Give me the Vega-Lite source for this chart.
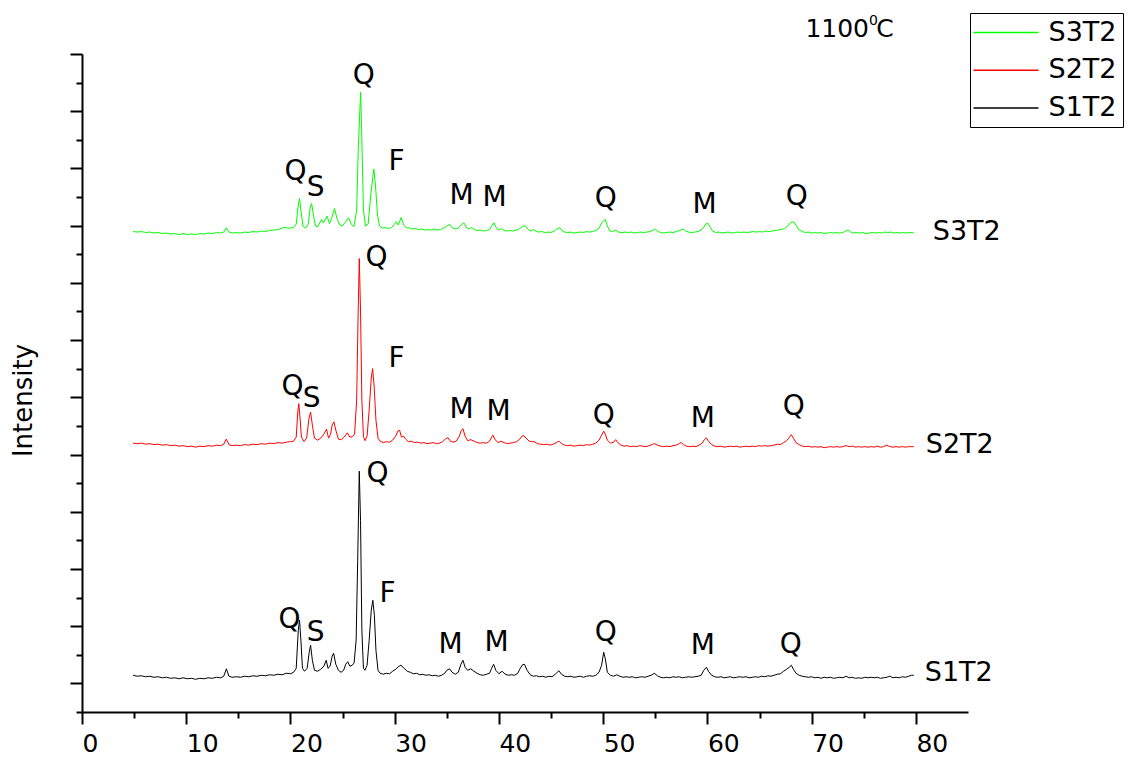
{
"$schema": "https://vega.github.io/schema/vega-lite/v6.json",
"width": 886, "height": 658,
"autosize": {"type": "none"},
"padding": {"left": 82, "top": 54, "right": 165, "bottom": 51},
"background": "white",
"config": {"view": {"stroke": null}, "axis": {"grid": false}},
"resolve": {"axis": {"x": "independent", "y": "independent"}},
"datasets": {
"xrd": [
{"s":"S1T2","x":4.9,"y":14.2},{"s":"S1T2","x":5.3,"y":12.5},{"s":"S1T2","x":5.7,"y":13.3},{"s":"S1T2","x":6.1,"y":11.6},{"s":"S1T2","x":6.5,"y":12.5},{"s":"S1T2","x":6.9,"y":10.7},{"s":"S1T2","x":7.3,"y":11.6},{"s":"S1T2","x":7.7,"y":9.8},{"s":"S1T2","x":8.1,"y":10.7},{"s":"S1T2","x":8.5,"y":8.9},{"s":"S1T2","x":8.9,"y":9.8},{"s":"S1T2","x":9.3,"y":8.1},{"s":"S1T2","x":9.7,"y":9.8},{"s":"S1T2","x":10.1,"y":8.1},{"s":"S1T2","x":10.5,"y":8.9},{"s":"S1T2","x":10.9,"y":7.2},{"s":"S1T2","x":11.3,"y":8.9},{"s":"S1T2","x":11.7,"y":8.1},{"s":"S1T2","x":12.1,"y":9.8},{"s":"S1T2","x":12.5,"y":8.9},{"s":"S1T2","x":12.9,"y":10.7},{"s":"S1T2","x":13.3,"y":9.8},{"s":"S1T2","x":13.6,"y":12.5},{"s":"S1T2","x":13.85,"y":25.5},{"s":"S1T2","x":14.1,"y":12.5},{"s":"S1T2","x":14.4,"y":10.7},{"s":"S1T2","x":14.8,"y":11.6},{"s":"S1T2","x":15.2,"y":10.7},{"s":"S1T2","x":15.6,"y":12.5},{"s":"S1T2","x":16.0,"y":11.6},{"s":"S1T2","x":16.4,"y":13.3},{"s":"S1T2","x":16.8,"y":12.5},{"s":"S1T2","x":17.2,"y":14.2},{"s":"S1T2","x":17.6,"y":13.3},{"s":"S1T2","x":18.0,"y":15.1},{"s":"S1T2","x":18.4,"y":14.2},{"s":"S1T2","x":18.8,"y":16.0},{"s":"S1T2","x":19.2,"y":15.1},{"s":"S1T2","x":19.6,"y":17.7},{"s":"S1T2","x":20.0,"y":16.8},{"s":"S1T2","x":20.3,"y":19.4},{"s":"S1T2","x":20.55,"y":26.4},{"s":"S1T2","x":20.75,"y":92.9},{"s":"S1T2","x":20.87,"y":110.3},{"s":"S1T2","x":21.0,"y":75.4},{"s":"S1T2","x":21.15,"y":26.4},{"s":"S1T2","x":21.35,"y":21.2},{"s":"S1T2","x":21.6,"y":26.4},{"s":"S1T2","x":21.8,"y":54.4},{"s":"S1T2","x":21.93,"y":66.6},{"s":"S1T2","x":22.1,"y":40.4},{"s":"S1T2","x":22.3,"y":22.9},{"s":"S1T2","x":22.6,"y":21.2},{"s":"S1T2","x":22.9,"y":24.7},{"s":"S1T2","x":23.2,"y":29.9},{"s":"S1T2","x":23.43,"y":40.4},{"s":"S1T2","x":23.6,"y":26.4},{"s":"S1T2","x":23.8,"y":29.9},{"s":"S1T2","x":24.0,"y":47.4},{"s":"S1T2","x":24.14,"y":52.6},{"s":"S1T2","x":24.35,"y":33.4},{"s":"S1T2","x":24.6,"y":22.9},{"s":"S1T2","x":24.85,"y":19.4},{"s":"S1T2","x":25.1,"y":22.9},{"s":"S1T2","x":25.3,"y":33.4},{"s":"S1T2","x":25.5,"y":37.8},{"s":"S1T2","x":25.7,"y":29.9},{"s":"S1T2","x":25.9,"y":31.7},{"s":"S1T2","x":26.1,"y":35.2},{"s":"S1T2","x":26.3,"y":75.4},{"s":"S1T2","x":26.45,"y":215.3},{"s":"S1T2","x":26.6,"y":370.9},{"s":"S1T2","x":26.72,"y":285.2},{"s":"S1T2","x":26.85,"y":92.9},{"s":"S1T2","x":27.0,"y":26.4},{"s":"S1T2","x":27.15,"y":22.9},{"s":"S1T2","x":27.35,"y":31.7},{"s":"S1T2","x":27.55,"y":75.4},{"s":"S1T2","x":27.75,"y":127.8},{"s":"S1T2","x":27.9,"y":145.3},{"s":"S1T2","x":28.05,"y":119.1},{"s":"S1T2","x":28.2,"y":57.9},{"s":"S1T2","x":28.4,"y":22.9},{"s":"S1T2","x":28.6,"y":17.7},{"s":"S1T2","x":28.9,"y":16.0},{"s":"S1T2","x":29.2,"y":17.7},{"s":"S1T2","x":29.5,"y":16.8},{"s":"S1T2","x":29.8,"y":21.2},{"s":"S1T2","x":30.1,"y":24.7},{"s":"S1T2","x":30.4,"y":29.9},{"s":"S1T2","x":30.6,"y":31.7},{"s":"S1T2","x":30.9,"y":26.4},{"s":"S1T2","x":31.2,"y":21.2},{"s":"S1T2","x":31.5,"y":19.4},{"s":"S1T2","x":31.8,"y":16.8},{"s":"S1T2","x":32.1,"y":17.7},{"s":"S1T2","x":32.4,"y":15.1},{"s":"S1T2","x":32.7,"y":16.0},{"s":"S1T2","x":33.0,"y":14.2},{"s":"S1T2","x":33.3,"y":15.1},{"s":"S1T2","x":33.6,"y":13.3},{"s":"S1T2","x":33.9,"y":14.2},{"s":"S1T2","x":34.2,"y":12.5},{"s":"S1T2","x":34.5,"y":14.2},{"s":"S1T2","x":34.8,"y":17.7},{"s":"S1T2","x":35.0,"y":22.9},{"s":"S1T2","x":35.27,"y":25.5},{"s":"S1T2","x":35.5,"y":19.4},{"s":"S1T2","x":35.8,"y":16.0},{"s":"S1T2","x":36.1,"y":19.4},{"s":"S1T2","x":36.35,"y":33.4},{"s":"S1T2","x":36.55,"y":40.4},{"s":"S1T2","x":36.75,"y":28.2},{"s":"S1T2","x":37.0,"y":22.9},{"s":"S1T2","x":37.3,"y":25.5},{"s":"S1T2","x":37.6,"y":21.2},{"s":"S1T2","x":37.9,"y":17.7},{"s":"S1T2","x":38.2,"y":15.1},{"s":"S1T2","x":38.5,"y":14.2},{"s":"S1T2","x":38.8,"y":16.0},{"s":"S1T2","x":39.1,"y":17.7},{"s":"S1T2","x":39.3,"y":26.4},{"s":"S1T2","x":39.49,"y":33.4},{"s":"S1T2","x":39.7,"y":22.9},{"s":"S1T2","x":40.0,"y":16.8},{"s":"S1T2","x":40.3,"y":21.2},{"s":"S1T2","x":40.6,"y":16.0},{"s":"S1T2","x":40.9,"y":14.2},{"s":"S1T2","x":41.2,"y":15.1},{"s":"S1T2","x":41.5,"y":14.2},{"s":"S1T2","x":41.8,"y":17.7},{"s":"S1T2","x":42.05,"y":26.4},{"s":"S1T2","x":42.25,"y":32.5},{"s":"S1T2","x":42.45,"y":33.4},{"s":"S1T2","x":42.7,"y":22.9},{"s":"S1T2","x":43.0,"y":15.1},{"s":"S1T2","x":43.3,"y":12.5},{"s":"S1T2","x":43.6,"y":13.3},{"s":"S1T2","x":43.9,"y":11.6},{"s":"S1T2","x":44.2,"y":12.5},{"s":"S1T2","x":44.5,"y":10.7},{"s":"S1T2","x":44.8,"y":12.5},{"s":"S1T2","x":45.1,"y":11.6},{"s":"S1T2","x":45.4,"y":16.0},{"s":"S1T2","x":45.75,"y":22.1},{"s":"S1T2","x":46.0,"y":16.0},{"s":"S1T2","x":46.3,"y":12.5},{"s":"S1T2","x":46.6,"y":11.6},{"s":"S1T2","x":46.9,"y":12.5},{"s":"S1T2","x":47.2,"y":10.7},{"s":"S1T2","x":47.5,"y":11.6},{"s":"S1T2","x":47.8,"y":12.5},{"s":"S1T2","x":48.1,"y":10.7},{"s":"S1T2","x":48.4,"y":12.5},{"s":"S1T2","x":48.7,"y":13.3},{"s":"S1T2","x":49.0,"y":12.5},{"s":"S1T2","x":49.3,"y":14.2},{"s":"S1T2","x":49.6,"y":19.4},{"s":"S1T2","x":49.85,"y":31.7},{"s":"S1T2","x":50.05,"y":54.4},{"s":"S1T2","x":50.2,"y":43.9},{"s":"S1T2","x":50.4,"y":19.4},{"s":"S1T2","x":50.7,"y":14.2},{"s":"S1T2","x":51.0,"y":12.5},{"s":"S1T2","x":51.3,"y":15.1},{"s":"S1T2","x":51.6,"y":12.5},{"s":"S1T2","x":51.9,"y":10.7},{"s":"S1T2","x":52.2,"y":11.6},{"s":"S1T2","x":52.5,"y":10.7},{"s":"S1T2","x":52.8,"y":11.6},{"s":"S1T2","x":53.1,"y":9.8},{"s":"S1T2","x":53.4,"y":10.7},{"s":"S1T2","x":53.7,"y":11.6},{"s":"S1T2","x":54.0,"y":10.7},{"s":"S1T2","x":54.3,"y":12.5},{"s":"S1T2","x":54.6,"y":14.2},{"s":"S1T2","x":54.9,"y":17.7},{"s":"S1T2","x":55.2,"y":13.3},{"s":"S1T2","x":55.5,"y":10.7},{"s":"S1T2","x":55.8,"y":9.8},{"s":"S1T2","x":56.1,"y":10.7},{"s":"S1T2","x":56.4,"y":9.8},{"s":"S1T2","x":56.7,"y":11.6},{"s":"S1T2","x":57.0,"y":10.7},{"s":"S1T2","x":57.3,"y":11.6},{"s":"S1T2","x":57.6,"y":9.8},{"s":"S1T2","x":57.9,"y":10.7},{"s":"S1T2","x":58.2,"y":11.6},{"s":"S1T2","x":58.5,"y":10.7},{"s":"S1T2","x":58.8,"y":11.6},{"s":"S1T2","x":59.1,"y":12.5},{"s":"S1T2","x":59.4,"y":14.2},{"s":"S1T2","x":59.65,"y":22.9},{"s":"S1T2","x":59.9,"y":28.2},{"s":"S1T2","x":60.1,"y":21.2},{"s":"S1T2","x":60.4,"y":14.2},{"s":"S1T2","x":60.7,"y":11.6},{"s":"S1T2","x":61.0,"y":10.7},{"s":"S1T2","x":61.3,"y":11.6},{"s":"S1T2","x":61.6,"y":9.8},{"s":"S1T2","x":61.9,"y":10.7},{"s":"S1T2","x":62.2,"y":11.6},{"s":"S1T2","x":62.5,"y":9.8},{"s":"S1T2","x":62.8,"y":10.7},{"s":"S1T2","x":63.1,"y":11.6},{"s":"S1T2","x":63.4,"y":10.7},{"s":"S1T2","x":63.7,"y":11.6},{"s":"S1T2","x":64.0,"y":9.8},{"s":"S1T2","x":64.3,"y":10.7},{"s":"S1T2","x":64.6,"y":11.6},{"s":"S1T2","x":64.9,"y":10.7},{"s":"S1T2","x":65.2,"y":12.5},{"s":"S1T2","x":65.5,"y":11.6},{"s":"S1T2","x":65.8,"y":13.3},{"s":"S1T2","x":66.1,"y":12.5},{"s":"S1T2","x":66.4,"y":14.2},{"s":"S1T2","x":66.7,"y":16.0},{"s":"S1T2","x":67.0,"y":16.8},{"s":"S1T2","x":67.3,"y":21.2},{"s":"S1T2","x":67.6,"y":24.7},{"s":"S1T2","x":67.85,"y":28.2},{"s":"S1T2","x":68.05,"y":31.7},{"s":"S1T2","x":68.25,"y":24.7},{"s":"S1T2","x":68.5,"y":17.7},{"s":"S1T2","x":68.8,"y":14.2},{"s":"S1T2","x":69.1,"y":12.5},{"s":"S1T2","x":69.4,"y":11.6},{"s":"S1T2","x":69.7,"y":10.7},{"s":"S1T2","x":70.0,"y":11.6},{"s":"S1T2","x":70.3,"y":9.8},{"s":"S1T2","x":70.6,"y":10.7},{"s":"S1T2","x":70.9,"y":8.9},{"s":"S1T2","x":71.2,"y":10.7},{"s":"S1T2","x":71.5,"y":9.8},{"s":"S1T2","x":71.8,"y":10.7},{"s":"S1T2","x":72.1,"y":8.9},{"s":"S1T2","x":72.4,"y":9.8},{"s":"S1T2","x":72.7,"y":10.7},{"s":"S1T2","x":73.0,"y":9.8},{"s":"S1T2","x":73.3,"y":12.5},{"s":"S1T2","x":73.6,"y":9.8},{"s":"S1T2","x":73.9,"y":10.7},{"s":"S1T2","x":74.2,"y":8.9},{"s":"S1T2","x":74.5,"y":9.8},{"s":"S1T2","x":74.8,"y":8.9},{"s":"S1T2","x":75.1,"y":10.7},{"s":"S1T2","x":75.4,"y":9.8},{"s":"S1T2","x":75.7,"y":10.7},{"s":"S1T2","x":76.0,"y":9.8},{"s":"S1T2","x":76.3,"y":10.7},{"s":"S1T2","x":76.6,"y":8.9},{"s":"S1T2","x":76.9,"y":9.8},{"s":"S1T2","x":77.2,"y":10.7},{"s":"S1T2","x":77.5,"y":12.5},{"s":"S1T2","x":77.8,"y":9.8},{"s":"S1T2","x":78.1,"y":10.7},{"s":"S1T2","x":78.4,"y":9.8},{"s":"S1T2","x":78.7,"y":11.6},{"s":"S1T2","x":79.0,"y":10.7},{"s":"S1T2","x":79.3,"y":12.5},{"s":"S1T2","x":79.6,"y":14.2},{"s":"S1T2","x":79.8,"y":14.2},
{"s":"S2T2","x":4.9,"y":419.9},{"s":"S2T2","x":5.3,"y":419.0},{"s":"S2T2","x":5.7,"y":419.9},{"s":"S2T2","x":6.1,"y":418.1},{"s":"S2T2","x":6.5,"y":419.0},{"s":"S2T2","x":6.9,"y":417.3},{"s":"S2T2","x":7.3,"y":418.1},{"s":"S2T2","x":7.7,"y":416.4},{"s":"S2T2","x":8.1,"y":417.3},{"s":"S2T2","x":8.5,"y":415.5},{"s":"S2T2","x":8.9,"y":416.4},{"s":"S2T2","x":9.3,"y":414.6},{"s":"S2T2","x":9.7,"y":415.5},{"s":"S2T2","x":10.1,"y":413.8},{"s":"S2T2","x":10.5,"y":414.6},{"s":"S2T2","x":10.9,"y":412.9},{"s":"S2T2","x":11.3,"y":414.6},{"s":"S2T2","x":11.7,"y":413.8},{"s":"S2T2","x":12.1,"y":415.5},{"s":"S2T2","x":12.5,"y":414.6},{"s":"S2T2","x":12.9,"y":416.4},{"s":"S2T2","x":13.3,"y":415.5},{"s":"S2T2","x":13.6,"y":418.1},{"s":"S2T2","x":13.84,"y":426.9},{"s":"S2T2","x":14.1,"y":417.3},{"s":"S2T2","x":14.4,"y":415.5},{"s":"S2T2","x":14.8,"y":416.4},{"s":"S2T2","x":15.2,"y":415.5},{"s":"S2T2","x":15.6,"y":417.3},{"s":"S2T2","x":16.0,"y":416.4},{"s":"S2T2","x":16.4,"y":418.1},{"s":"S2T2","x":16.8,"y":417.3},{"s":"S2T2","x":17.2,"y":419.0},{"s":"S2T2","x":17.6,"y":418.1},{"s":"S2T2","x":18.0,"y":419.9},{"s":"S2T2","x":18.4,"y":419.0},{"s":"S2T2","x":18.8,"y":420.8},{"s":"S2T2","x":19.2,"y":419.9},{"s":"S2T2","x":19.6,"y":421.6},{"s":"S2T2","x":20.0,"y":422.5},{"s":"S2T2","x":20.3,"y":423.4},{"s":"S2T2","x":20.55,"y":430.4},{"s":"S2T2","x":20.7,"y":474.1},{"s":"S2T2","x":20.8,"y":488.9},{"s":"S2T2","x":20.92,"y":463.6},{"s":"S2T2","x":21.05,"y":430.4},{"s":"S2T2","x":21.3,"y":422.5},{"s":"S2T2","x":21.55,"y":428.6},{"s":"S2T2","x":21.78,"y":463.6},{"s":"S2T2","x":21.93,"y":474.1},{"s":"S2T2","x":22.1,"y":451.4},{"s":"S2T2","x":22.3,"y":428.6},{"s":"S2T2","x":22.6,"y":425.1},{"s":"S2T2","x":22.9,"y":428.6},{"s":"S2T2","x":23.2,"y":435.6},{"s":"S2T2","x":23.46,"y":444.4},{"s":"S2T2","x":23.65,"y":428.6},{"s":"S2T2","x":23.85,"y":435.6},{"s":"S2T2","x":24.0,"y":451.4},{"s":"S2T2","x":24.17,"y":457.1},{"s":"S2T2","x":24.35,"y":442.6},{"s":"S2T2","x":24.6,"y":426.9},{"s":"S2T2","x":24.9,"y":426.0},{"s":"S2T2","x":25.15,"y":430.4},{"s":"S2T2","x":25.45,"y":437.9},{"s":"S2T2","x":25.7,"y":430.4},{"s":"S2T2","x":25.95,"y":431.2},{"s":"S2T2","x":26.15,"y":435.6},{"s":"S2T2","x":26.35,"y":495.1},{"s":"S2T2","x":26.48,"y":635.0},{"s":"S2T2","x":26.6,"y":742.5},{"s":"S2T2","x":26.72,"y":652.4},{"s":"S2T2","x":26.85,"y":495.1},{"s":"S2T2","x":27.0,"y":432.1},{"s":"S2T2","x":27.15,"y":424.2},{"s":"S2T2","x":27.35,"y":432.1},{"s":"S2T2","x":27.55,"y":477.6},{"s":"S2T2","x":27.75,"y":533.5},{"s":"S2T2","x":27.88,"y":550.1},{"s":"S2T2","x":28.02,"y":521.3},{"s":"S2T2","x":28.2,"y":460.1},{"s":"S2T2","x":28.4,"y":428.6},{"s":"S2T2","x":28.6,"y":423.4},{"s":"S2T2","x":28.9,"y":420.8},{"s":"S2T2","x":29.2,"y":422.5},{"s":"S2T2","x":29.5,"y":421.6},{"s":"S2T2","x":29.8,"y":425.1},{"s":"S2T2","x":30.1,"y":432.1},{"s":"S2T2","x":30.3,"y":440.9},{"s":"S2T2","x":30.47,"y":442.6},{"s":"S2T2","x":30.65,"y":430.4},{"s":"S2T2","x":30.85,"y":432.1},{"s":"S2T2","x":31.05,"y":426.9},{"s":"S2T2","x":31.3,"y":422.5},{"s":"S2T2","x":31.6,"y":423.4},{"s":"S2T2","x":31.9,"y":420.8},{"s":"S2T2","x":32.2,"y":421.6},{"s":"S2T2","x":32.5,"y":419.9},{"s":"S2T2","x":32.8,"y":420.8},{"s":"S2T2","x":33.1,"y":419.0},{"s":"S2T2","x":33.4,"y":419.9},{"s":"S2T2","x":33.7,"y":420.8},{"s":"S2T2","x":34.0,"y":419.0},{"s":"S2T2","x":34.3,"y":419.9},{"s":"S2T2","x":34.6,"y":422.5},{"s":"S2T2","x":34.85,"y":426.9},{"s":"S2T2","x":35.1,"y":429.5},{"s":"S2T2","x":35.35,"y":423.4},{"s":"S2T2","x":35.6,"y":421.6},{"s":"S2T2","x":35.9,"y":423.4},{"s":"S2T2","x":36.2,"y":432.1},{"s":"S2T2","x":36.4,"y":442.6},{"s":"S2T2","x":36.55,"y":445.2},{"s":"S2T2","x":36.75,"y":432.1},{"s":"S2T2","x":37.0,"y":424.2},{"s":"S2T2","x":37.3,"y":426.0},{"s":"S2T2","x":37.6,"y":423.4},{"s":"S2T2","x":37.9,"y":420.8},{"s":"S2T2","x":38.2,"y":419.9},{"s":"S2T2","x":38.5,"y":420.8},{"s":"S2T2","x":38.8,"y":419.9},{"s":"S2T2","x":39.1,"y":423.4},{"s":"S2T2","x":39.3,"y":430.4},{"s":"S2T2","x":39.42,"y":433.9},{"s":"S2T2","x":39.6,"y":426.9},{"s":"S2T2","x":39.9,"y":420.8},{"s":"S2T2","x":40.2,"y":423.4},{"s":"S2T2","x":40.5,"y":420.8},{"s":"S2T2","x":40.8,"y":419.0},{"s":"S2T2","x":41.1,"y":419.9},{"s":"S2T2","x":41.4,"y":420.8},{"s":"S2T2","x":41.7,"y":422.5},{"s":"S2T2","x":42.0,"y":426.9},{"s":"S2T2","x":42.2,"y":432.1},{"s":"S2T2","x":42.4,"y":433.0},{"s":"S2T2","x":42.6,"y":428.6},{"s":"S2T2","x":42.9,"y":423.4},{"s":"S2T2","x":43.2,"y":422.5},{"s":"S2T2","x":43.4,"y":422.2},{"s":"S2T2","x":43.7,"y":419.0},{"s":"S2T2","x":44.0,"y":418.1},{"s":"S2T2","x":44.3,"y":417.3},{"s":"S2T2","x":44.6,"y":418.1},{"s":"S2T2","x":44.9,"y":416.4},{"s":"S2T2","x":45.2,"y":418.1},{"s":"S2T2","x":45.5,"y":420.8},{"s":"S2T2","x":45.76,"y":423.4},{"s":"S2T2","x":46.0,"y":419.0},{"s":"S2T2","x":46.3,"y":416.4},{"s":"S2T2","x":46.6,"y":415.5},{"s":"S2T2","x":46.9,"y":416.4},{"s":"S2T2","x":47.2,"y":414.6},{"s":"S2T2","x":47.5,"y":415.5},{"s":"S2T2","x":47.8,"y":416.4},{"s":"S2T2","x":48.1,"y":415.5},{"s":"S2T2","x":48.4,"y":417.3},{"s":"S2T2","x":48.7,"y":416.4},{"s":"S2T2","x":49.0,"y":418.1},{"s":"S2T2","x":49.3,"y":419.9},{"s":"S2T2","x":49.6,"y":425.1},{"s":"S2T2","x":49.85,"y":433.9},{"s":"S2T2","x":50.05,"y":440.9},{"s":"S2T2","x":50.2,"y":435.6},{"s":"S2T2","x":50.4,"y":425.1},{"s":"S2T2","x":50.7,"y":419.9},{"s":"S2T2","x":51.0,"y":421.6},{"s":"S2T2","x":51.2,"y":426.0},{"s":"S2T2","x":51.4,"y":420.8},{"s":"S2T2","x":51.7,"y":416.4},{"s":"S2T2","x":52.0,"y":414.6},{"s":"S2T2","x":52.3,"y":415.5},{"s":"S2T2","x":52.6,"y":413.8},{"s":"S2T2","x":52.9,"y":414.6},{"s":"S2T2","x":53.2,"y":413.8},{"s":"S2T2","x":53.5,"y":415.5},{"s":"S2T2","x":53.8,"y":414.6},{"s":"S2T2","x":54.1,"y":413.8},{"s":"S2T2","x":54.4,"y":415.5},{"s":"S2T2","x":54.7,"y":417.3},{"s":"S2T2","x":54.9,"y":419.3},{"s":"S2T2","x":55.2,"y":416.4},{"s":"S2T2","x":55.5,"y":414.6},{"s":"S2T2","x":55.8,"y":413.8},{"s":"S2T2","x":56.1,"y":414.6},{"s":"S2T2","x":56.4,"y":413.8},{"s":"S2T2","x":56.7,"y":415.5},{"s":"S2T2","x":57.0,"y":416.4},{"s":"S2T2","x":57.3,"y":419.0},{"s":"S2T2","x":57.5,"y":421.1},{"s":"S2T2","x":57.7,"y":417.3},{"s":"S2T2","x":58.0,"y":414.6},{"s":"S2T2","x":58.3,"y":413.8},{"s":"S2T2","x":58.6,"y":414.6},{"s":"S2T2","x":58.9,"y":413.8},{"s":"S2T2","x":59.2,"y":416.4},{"s":"S2T2","x":59.5,"y":419.9},{"s":"S2T2","x":59.7,"y":426.0},{"s":"S2T2","x":59.9,"y":429.1},{"s":"S2T2","x":60.1,"y":423.4},{"s":"S2T2","x":60.4,"y":417.3},{"s":"S2T2","x":60.7,"y":414.6},{"s":"S2T2","x":61.0,"y":413.8},{"s":"S2T2","x":61.3,"y":414.6},{"s":"S2T2","x":61.6,"y":412.9},{"s":"S2T2","x":61.9,"y":413.8},{"s":"S2T2","x":62.2,"y":414.6},{"s":"S2T2","x":62.5,"y":413.8},{"s":"S2T2","x":62.8,"y":414.6},{"s":"S2T2","x":63.1,"y":412.9},{"s":"S2T2","x":63.4,"y":413.8},{"s":"S2T2","x":63.7,"y":414.6},{"s":"S2T2","x":64.0,"y":413.8},{"s":"S2T2","x":64.3,"y":414.6},{"s":"S2T2","x":64.6,"y":413.8},{"s":"S2T2","x":64.9,"y":415.5},{"s":"S2T2","x":65.2,"y":414.6},{"s":"S2T2","x":65.5,"y":415.5},{"s":"S2T2","x":65.8,"y":414.6},{"s":"S2T2","x":66.1,"y":415.5},{"s":"S2T2","x":66.4,"y":416.4},{"s":"S2T2","x":66.7,"y":418.1},{"s":"S2T2","x":67.0,"y":417.3},{"s":"S2T2","x":67.3,"y":420.8},{"s":"S2T2","x":67.6,"y":424.2},{"s":"S2T2","x":67.85,"y":429.5},{"s":"S2T2","x":68.05,"y":434.7},{"s":"S2T2","x":68.25,"y":428.6},{"s":"S2T2","x":68.5,"y":420.8},{"s":"S2T2","x":68.8,"y":417.3},{"s":"S2T2","x":69.1,"y":414.6},{"s":"S2T2","x":69.4,"y":413.8},{"s":"S2T2","x":69.7,"y":414.6},{"s":"S2T2","x":70.0,"y":412.9},{"s":"S2T2","x":70.3,"y":413.8},{"s":"S2T2","x":70.6,"y":412.9},{"s":"S2T2","x":70.9,"y":413.8},{"s":"S2T2","x":71.2,"y":412.0},{"s":"S2T2","x":71.5,"y":412.9},{"s":"S2T2","x":71.8,"y":413.8},{"s":"S2T2","x":72.1,"y":412.9},{"s":"S2T2","x":72.4,"y":413.8},{"s":"S2T2","x":72.7,"y":412.9},{"s":"S2T2","x":73.0,"y":413.8},{"s":"S2T2","x":73.3,"y":415.5},{"s":"S2T2","x":73.6,"y":413.8},{"s":"S2T2","x":73.9,"y":414.6},{"s":"S2T2","x":74.2,"y":412.9},{"s":"S2T2","x":74.5,"y":413.8},{"s":"S2T2","x":74.8,"y":412.9},{"s":"S2T2","x":75.1,"y":413.8},{"s":"S2T2","x":75.4,"y":412.9},{"s":"S2T2","x":75.7,"y":413.8},{"s":"S2T2","x":76.0,"y":412.9},{"s":"S2T2","x":76.3,"y":414.6},{"s":"S2T2","x":76.6,"y":412.9},{"s":"S2T2","x":76.9,"y":413.8},{"s":"S2T2","x":77.2,"y":416.4},{"s":"S2T2","x":77.5,"y":413.8},{"s":"S2T2","x":77.8,"y":412.9},{"s":"S2T2","x":78.1,"y":413.8},{"s":"S2T2","x":78.4,"y":412.9},{"s":"S2T2","x":78.7,"y":413.8},{"s":"S2T2","x":79.0,"y":412.9},{"s":"S2T2","x":79.3,"y":413.8},{"s":"S2T2","x":79.6,"y":413.8},{"s":"S2T2","x":79.8,"y":413.8},
{"s":"S3T2","x":4.9,"y":789.7},{"s":"S3T2","x":5.3,"y":788.8},{"s":"S3T2","x":5.7,"y":789.7},{"s":"S3T2","x":6.1,"y":788.0},{"s":"S3T2","x":6.5,"y":788.8},{"s":"S3T2","x":6.9,"y":787.1},{"s":"S3T2","x":7.3,"y":788.0},{"s":"S3T2","x":7.7,"y":786.2},{"s":"S3T2","x":8.1,"y":787.1},{"s":"S3T2","x":8.5,"y":785.3},{"s":"S3T2","x":8.9,"y":786.2},{"s":"S3T2","x":9.3,"y":784.5},{"s":"S3T2","x":9.7,"y":786.2},{"s":"S3T2","x":10.1,"y":784.5},{"s":"S3T2","x":10.5,"y":785.3},{"s":"S3T2","x":10.9,"y":784.5},{"s":"S3T2","x":11.3,"y":786.2},{"s":"S3T2","x":11.7,"y":785.3},{"s":"S3T2","x":12.1,"y":787.1},{"s":"S3T2","x":12.5,"y":786.2},{"s":"S3T2","x":12.9,"y":788.0},{"s":"S3T2","x":13.3,"y":787.1},{"s":"S3T2","x":13.6,"y":788.8},{"s":"S3T2","x":13.84,"y":796.3},{"s":"S3T2","x":14.1,"y":788.8},{"s":"S3T2","x":14.4,"y":787.1},{"s":"S3T2","x":14.8,"y":788.0},{"s":"S3T2","x":15.2,"y":787.1},{"s":"S3T2","x":15.6,"y":788.8},{"s":"S3T2","x":16.0,"y":788.0},{"s":"S3T2","x":16.4,"y":789.7},{"s":"S3T2","x":16.8,"y":788.8},{"s":"S3T2","x":17.2,"y":790.6},{"s":"S3T2","x":17.6,"y":789.7},{"s":"S3T2","x":18.0,"y":791.5},{"s":"S3T2","x":18.4,"y":792.3},{"s":"S3T2","x":18.8,"y":793.2},{"s":"S3T2","x":19.1,"y":795.0},{"s":"S3T2","x":19.4,"y":797.6},{"s":"S3T2","x":19.7,"y":795.8},{"s":"S3T2","x":20.0,"y":795.8},{"s":"S3T2","x":20.3,"y":796.7},{"s":"S3T2","x":20.55,"y":802.8},{"s":"S3T2","x":20.75,"y":836.0},{"s":"S3T2","x":20.87,"y":847.4},{"s":"S3T2","x":21.0,"y":827.3},{"s":"S3T2","x":21.2,"y":799.3},{"s":"S3T2","x":21.45,"y":795.8},{"s":"S3T2","x":21.7,"y":802.8},{"s":"S3T2","x":21.9,"y":832.5},{"s":"S3T2","x":22.03,"y":838.7},{"s":"S3T2","x":22.2,"y":818.6},{"s":"S3T2","x":22.4,"y":799.3},{"s":"S3T2","x":22.6,"y":797.6},{"s":"S3T2","x":22.85,"y":806.3},{"s":"S3T2","x":23.0,"y":810.7},{"s":"S3T2","x":23.15,"y":804.6},{"s":"S3T2","x":23.5,"y":816.8},{"s":"S3T2","x":23.75,"y":803.7},{"s":"S3T2","x":23.95,"y":813.3},{"s":"S3T2","x":24.23,"y":829.9},{"s":"S3T2","x":24.45,"y":813.3},{"s":"S3T2","x":24.7,"y":801.9},{"s":"S3T2","x":24.95,"y":799.3},{"s":"S3T2","x":25.2,"y":804.6},{"s":"S3T2","x":25.58,"y":813.8},{"s":"S3T2","x":25.85,"y":801.9},{"s":"S3T2","x":26.1,"y":798.4},{"s":"S3T2","x":26.35,"y":827.3},{"s":"S3T2","x":26.5,"y":932.2},{"s":"S3T2","x":26.73,"y":1033.1},{"s":"S3T2","x":26.85,"y":949.7},{"s":"S3T2","x":27.0,"y":827.3},{"s":"S3T2","x":27.2,"y":799.3},{"s":"S3T2","x":27.45,"y":802.8},{"s":"S3T2","x":27.7,"y":853.5},{"s":"S3T2","x":28.0,"y":899.0},{"s":"S3T2","x":28.15,"y":871.0},{"s":"S3T2","x":28.35,"y":818.6},{"s":"S3T2","x":28.55,"y":799.3},{"s":"S3T2","x":28.8,"y":795.8},{"s":"S3T2","x":29.1,"y":796.7},{"s":"S3T2","x":29.4,"y":795.0},{"s":"S3T2","x":29.7,"y":796.7},{"s":"S3T2","x":29.95,"y":801.9},{"s":"S3T2","x":30.15,"y":806.8},{"s":"S3T2","x":30.35,"y":801.1},{"s":"S3T2","x":30.63,"y":814.5},{"s":"S3T2","x":30.85,"y":801.1},{"s":"S3T2","x":31.1,"y":796.7},{"s":"S3T2","x":31.4,"y":795.8},{"s":"S3T2","x":31.7,"y":794.1},{"s":"S3T2","x":32.0,"y":795.0},{"s":"S3T2","x":32.3,"y":793.2},{"s":"S3T2","x":32.6,"y":794.1},{"s":"S3T2","x":32.9,"y":792.3},{"s":"S3T2","x":33.2,"y":793.2},{"s":"S3T2","x":33.5,"y":792.3},{"s":"S3T2","x":33.8,"y":794.1},{"s":"S3T2","x":34.1,"y":792.3},{"s":"S3T2","x":34.4,"y":793.2},{"s":"S3T2","x":34.7,"y":795.8},{"s":"S3T2","x":35.0,"y":799.3},{"s":"S3T2","x":35.27,"y":802.3},{"s":"S3T2","x":35.5,"y":796.7},{"s":"S3T2","x":35.8,"y":794.1},{"s":"S3T2","x":36.1,"y":795.8},{"s":"S3T2","x":36.4,"y":801.9},{"s":"S3T2","x":36.64,"y":805.1},{"s":"S3T2","x":36.85,"y":797.6},{"s":"S3T2","x":37.1,"y":794.1},{"s":"S3T2","x":37.35,"y":796.7},{"s":"S3T2","x":37.6,"y":794.1},{"s":"S3T2","x":37.9,"y":791.5},{"s":"S3T2","x":38.2,"y":792.3},{"s":"S3T2","x":38.5,"y":790.6},{"s":"S3T2","x":38.8,"y":791.5},{"s":"S3T2","x":39.1,"y":793.2},{"s":"S3T2","x":39.3,"y":799.3},{"s":"S3T2","x":39.52,"y":805.1},{"s":"S3T2","x":39.7,"y":797.6},{"s":"S3T2","x":39.95,"y":792.3},{"s":"S3T2","x":40.25,"y":795.0},{"s":"S3T2","x":40.5,"y":791.5},{"s":"S3T2","x":40.8,"y":790.6},{"s":"S3T2","x":41.1,"y":791.5},{"s":"S3T2","x":41.4,"y":790.6},{"s":"S3T2","x":41.7,"y":792.3},{"s":"S3T2","x":42.0,"y":795.0},{"s":"S3T2","x":42.25,"y":798.4},{"s":"S3T2","x":42.53,"y":799.8},{"s":"S3T2","x":42.75,"y":794.1},{"s":"S3T2","x":43.0,"y":790.6},{"s":"S3T2","x":43.3,"y":793.2},{"s":"S3T2","x":43.55,"y":790.6},{"s":"S3T2","x":43.8,"y":788.8},{"s":"S3T2","x":44.1,"y":789.7},{"s":"S3T2","x":44.4,"y":788.0},{"s":"S3T2","x":44.7,"y":788.8},{"s":"S3T2","x":45.0,"y":788.0},{"s":"S3T2","x":45.3,"y":790.6},{"s":"S3T2","x":45.55,"y":794.1},{"s":"S3T2","x":45.83,"y":796.3},{"s":"S3T2","x":46.05,"y":791.5},{"s":"S3T2","x":46.3,"y":788.8},{"s":"S3T2","x":46.6,"y":788.0},{"s":"S3T2","x":46.9,"y":788.8},{"s":"S3T2","x":47.2,"y":787.1},{"s":"S3T2","x":47.5,"y":788.0},{"s":"S3T2","x":47.8,"y":788.8},{"s":"S3T2","x":48.1,"y":788.0},{"s":"S3T2","x":48.4,"y":789.7},{"s":"S3T2","x":48.7,"y":788.8},{"s":"S3T2","x":49.0,"y":789.7},{"s":"S3T2","x":49.3,"y":791.5},{"s":"S3T2","x":49.6,"y":795.8},{"s":"S3T2","x":49.85,"y":804.6},{"s":"S3T2","x":50.2,"y":811.0},{"s":"S3T2","x":50.4,"y":799.3},{"s":"S3T2","x":50.65,"y":790.6},{"s":"S3T2","x":50.9,"y":789.7},{"s":"S3T2","x":51.2,"y":792.3},{"s":"S3T2","x":51.45,"y":788.8},{"s":"S3T2","x":51.8,"y":788.0},{"s":"S3T2","x":52.1,"y":788.8},{"s":"S3T2","x":52.4,"y":788.0},{"s":"S3T2","x":52.7,"y":788.8},{"s":"S3T2","x":53.0,"y":787.1},{"s":"S3T2","x":53.3,"y":788.0},{"s":"S3T2","x":53.6,"y":788.8},{"s":"S3T2","x":53.9,"y":788.0},{"s":"S3T2","x":54.2,"y":788.8},{"s":"S3T2","x":54.5,"y":789.7},{"s":"S3T2","x":54.8,"y":792.3},{"s":"S3T2","x":55.0,"y":794.1},{"s":"S3T2","x":55.25,"y":789.7},{"s":"S3T2","x":55.5,"y":788.0},{"s":"S3T2","x":55.8,"y":787.1},{"s":"S3T2","x":56.1,"y":788.0},{"s":"S3T2","x":56.4,"y":788.8},{"s":"S3T2","x":56.7,"y":788.0},{"s":"S3T2","x":57.0,"y":789.7},{"s":"S3T2","x":57.3,"y":791.5},{"s":"S3T2","x":57.65,"y":794.1},{"s":"S3T2","x":57.9,"y":790.6},{"s":"S3T2","x":58.2,"y":788.8},{"s":"S3T2","x":58.5,"y":788.0},{"s":"S3T2","x":58.8,"y":788.8},{"s":"S3T2","x":59.1,"y":789.7},{"s":"S3T2","x":59.4,"y":792.3},{"s":"S3T2","x":59.65,"y":797.6},{"s":"S3T2","x":59.85,"y":802.8},{"s":"S3T2","x":60.06,"y":804.0},{"s":"S3T2","x":60.25,"y":797.6},{"s":"S3T2","x":60.5,"y":790.6},{"s":"S3T2","x":60.8,"y":788.0},{"s":"S3T2","x":61.1,"y":788.8},{"s":"S3T2","x":61.4,"y":787.1},{"s":"S3T2","x":61.7,"y":788.0},{"s":"S3T2","x":62.0,"y":788.8},{"s":"S3T2","x":62.3,"y":787.1},{"s":"S3T2","x":62.6,"y":788.0},{"s":"S3T2","x":62.9,"y":788.8},{"s":"S3T2","x":63.2,"y":788.0},{"s":"S3T2","x":63.5,"y":788.8},{"s":"S3T2","x":63.8,"y":788.0},{"s":"S3T2","x":64.1,"y":788.8},{"s":"S3T2","x":64.4,"y":789.7},{"s":"S3T2","x":64.7,"y":788.8},{"s":"S3T2","x":65.0,"y":789.7},{"s":"S3T2","x":65.3,"y":788.8},{"s":"S3T2","x":65.6,"y":790.6},{"s":"S3T2","x":65.9,"y":789.7},{"s":"S3T2","x":66.2,"y":790.6},{"s":"S3T2","x":66.5,"y":791.5},{"s":"S3T2","x":66.8,"y":792.3},{"s":"S3T2","x":67.1,"y":793.2},{"s":"S3T2","x":67.4,"y":795.0},{"s":"S3T2","x":67.7,"y":799.3},{"s":"S3T2","x":67.95,"y":804.6},{"s":"S3T2","x":68.3,"y":806.8},{"s":"S3T2","x":68.55,"y":799.3},{"s":"S3T2","x":68.8,"y":792.3},{"s":"S3T2","x":69.1,"y":789.7},{"s":"S3T2","x":69.4,"y":788.0},{"s":"S3T2","x":69.7,"y":788.8},{"s":"S3T2","x":70.0,"y":787.1},{"s":"S3T2","x":70.3,"y":788.0},{"s":"S3T2","x":70.6,"y":787.1},{"s":"S3T2","x":70.9,"y":788.0},{"s":"S3T2","x":71.2,"y":786.2},{"s":"S3T2","x":71.5,"y":787.1},{"s":"S3T2","x":71.8,"y":788.0},{"s":"S3T2","x":72.1,"y":787.1},{"s":"S3T2","x":72.4,"y":788.0},{"s":"S3T2","x":72.7,"y":787.1},{"s":"S3T2","x":73.0,"y":788.0},{"s":"S3T2","x":73.25,"y":790.6},{"s":"S3T2","x":73.5,"y":792.3},{"s":"S3T2","x":73.75,"y":788.8},{"s":"S3T2","x":74.0,"y":787.1},{"s":"S3T2","x":74.3,"y":788.0},{"s":"S3T2","x":74.6,"y":787.1},{"s":"S3T2","x":74.9,"y":788.0},{"s":"S3T2","x":75.2,"y":786.2},{"s":"S3T2","x":75.5,"y":787.1},{"s":"S3T2","x":75.8,"y":788.0},{"s":"S3T2","x":76.1,"y":787.1},{"s":"S3T2","x":76.4,"y":788.0},{"s":"S3T2","x":76.7,"y":787.1},{"s":"S3T2","x":77.0,"y":788.8},{"s":"S3T2","x":77.3,"y":788.0},{"s":"S3T2","x":77.6,"y":788.8},{"s":"S3T2","x":77.9,"y":787.1},{"s":"S3T2","x":78.2,"y":788.0},{"s":"S3T2","x":78.5,"y":787.1},{"s":"S3T2","x":78.8,"y":788.0},{"s":"S3T2","x":79.1,"y":787.1},{"s":"S3T2","x":79.4,"y":788.0},{"s":"S3T2","x":79.8,"y":787.6}
],
"notes": [
{"role":"peak","t":"Q","x":27.02,"y":1060.7},{"role":"peak","t":"Q","x":20.49,"y":894.6},{"role":"peak","t":"S","x":22.41,"y":866.6},{"role":"peak","t":"F","x":30.18,"y":912.1},{"role":"peak","t":"M","x":36.42,"y":852.6},{"role":"peak","t":"M","x":39.59,"y":849.2},{"role":"peak","t":"Q","x":50.24,"y":847.4},{"role":"peak","t":"M","x":59.74,"y":836.9},{"role":"peak","t":"Q","x":68.57,"y":850.9},
{"role":"peak","t":"Q","x":28.26,"y":744.2},{"role":"peak","t":"Q","x":20.2,"y":518.7},{"role":"peak","t":"S","x":22.02,"y":497.7},{"role":"peak","t":"F","x":30.18,"y":567.6},{"role":"peak","t":"M","x":36.42,"y":478.4},{"role":"peak","t":"M","x":39.97,"y":474.9},{"role":"peak","t":"Q","x":50.05,"y":468.0},{"role":"peak","t":"M","x":59.55,"y":462.7},{"role":"peak","t":"Q","x":68.28,"y":483.7},
{"role":"peak","t":"Q","x":28.36,"y":366.5},{"role":"peak","t":"Q","x":19.91,"y":111.2},{"role":"peak","t":"S","x":22.41,"y":88.5},{"role":"peak","t":"F","x":29.32,"y":156.7},{"role":"peak","t":"M","x":35.36,"y":67.5},{"role":"peak","t":"M","x":39.78,"y":71.0},{"role":"peak","t":"Q","x":50.24,"y":88.5},{"role":"peak","t":"M","x":59.55,"y":65.8},{"role":"peak","t":"Q","x":67.99,"y":67.5},
{"role":"series","t":"S3T2","x":81.62,"y":789.7},{"role":"series","t":"S2T2","x":80.95,"y":417.2},{"role":"series","t":"S1T2","x":80.85,"y":18.6},
{"role":"temp","t":"1100","x":69.4,"y":1143.4},{"role":"temp","t":"C","x":76.2,"y":1143.4},{"role":"sup","t":"0","x":75.5,"y":1157.8}
]
},
"layer": [
{
"data": {"name": "xrd"},
"mark": {"type": "line", "strokeWidth": 1, "clip": false},
"encoding": {
"x": {"field": "x", "type": "quantitative",
"scale": {"domain": [0, 85], "nice": false, "zero": false},
"axis": {"orient": "bottom", "values": [0,10,20,30,40,50,60,70,80], "tickSize": 12,
"format": "d", "labelAlign": "left", "labelBaseline": "top", "labelPadding": 7,
"labelFont": "DejaVu Sans", "labelFontSize": 25, "labelColor": "#000",
"labelFlush": false, "labelOverlap": false, "labelBound": false,
"domainColor": "#000", "domainWidth": 2, "tickColor": "#000", "tickWidth": 2,
"grid": false, "title": null}},
"y": {"field": "y", "type": "quantitative",
"scale": {"domain": [-50, 1100], "nice": false, "zero": false},
"axis": {"orient": "left", "values": [0,100,200,300,400,500,600,700,800,900,1000,1100], "tickSize": 12,
"labels": false, "domainColor": "#000", "domainWidth": 2, "tickColor": "#000", "tickWidth": 2,
"grid": false, "title": "Intensity", "titleFont": "DejaVu Sans", "titleFontSize": 26,
"titleFontWeight": "normal", "titleColor": "#000", "titleAngle": -90,
"titleAlign": "center", "titleBaseline": "middle", "titleX": -59, "titleY": 346}},
"color": {"field": "s", "type": "nominal",
"scale": {"domain": ["S3T2", "S2T2", "S1T2"], "range": ["#00ff00", "#ff0000", "#000000"]},
"legend": {"orient": "none", "legendX": 888, "legendY": -41, "title": null,
"strokeColor": "#000", "fillColor": "#fff", "padding": 6,
"symbolType": "M-6.5,0H6.5", "symbolSize": 100, "symbolStrokeWidth": 1.5,
"symbolOffset": 16.5, "labelOffset": 29, "labelFont": "DejaVu Sans",
"labelFontSize": 27, "labelColor": "#000", "rowPadding": 9.7}}
}
},
{
"data": {"name": "notes"},
"transform": [{"filter": "datum.role === 'peak'"}],
"mark": {"type": "text", "font": "DejaVu Sans", "fontSize": 28, "color": "#000", "align": "center", "baseline": "middle"},
"encoding": {
"x": {"field": "x", "type": "quantitative",
"axis": {"orient": "bottom", "values": [5,15,25,35,45,55,65,75], "tickSize": 6, "labels": false,
"domain": false, "tickColor": "#000", "tickWidth": 2, "grid": false, "title": null}},
"y": {"field": "y", "type": "quantitative",
"axis": {"orient": "left", "values": [-50,50,150,250,350,450,550,650,750,850,950,1050], "tickSize": 6, "labels": false,
"domain": false, "tickColor": "#000", "tickWidth": 2, "grid": false, "title": null}},
"text": {"field": "t"}}
},
{
"data": {"name": "notes"},
"transform": [{"filter": "datum.role === 'series'"}],
"mark": {"type": "text", "font": "DejaVu Sans", "fontSize": 27, "color": "#000", "align": "left", "baseline": "middle"},
"encoding": {"x": {"field": "x", "type": "quantitative", "axis": null}, "y": {"field": "y", "type": "quantitative", "axis": null}, "text": {"field": "t"}}
},
{
"data": {"name": "notes"},
"transform": [{"filter": "datum.role === 'temp'"}],
"mark": {"type": "text", "font": "DejaVu Sans", "fontSize": 25, "color": "#000", "align": "left", "baseline": "middle"},
"encoding": {"x": {"field": "x", "type": "quantitative", "axis": null}, "y": {"field": "y", "type": "quantitative", "axis": null}, "text": {"field": "t"}}
},
{
"data": {"name": "notes"},
"transform": [{"filter": "datum.role === 'sup'"}],
"mark": {"type": "text", "font": "DejaVu Sans", "fontSize": 14, "color": "#000", "align": "left", "baseline": "middle"},
"encoding": {"x": {"field": "x", "type": "quantitative", "axis": null}, "y": {"field": "y", "type": "quantitative", "axis": null}, "text": {"field": "t"}}
}
]
}
